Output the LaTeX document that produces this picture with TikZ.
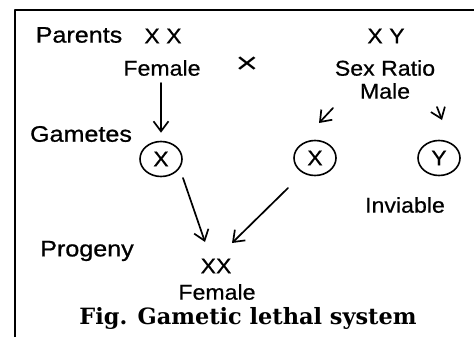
\documentclass[tikz,border=0pt]{standalone}
\usepackage{fontspec}
\setsansfont{Liberation Sans}[FakeStretch=1.08,FakeBold=0.6]
\newfontfamily\rowfont{Liberation Sans}[FakeStretch=1.12,FakeBold=0.9]
\newfontfamily\crossfont{Liberation Sans}[FakeStretch=1.3]
\newfontfamily\capfont{DejaVu Serif}
\usetikzlibrary{calc,arrows.meta,shapes.geometric}
\tikzset{pix/.style={x=1bp,y=-1bp,line join=round,line cap=round},
  lbl/.style={font=\sffamily\fontsize{21.5}{24}\selectfont,inner sep=0pt},
  rowlbl/.style={font=\rowfont\fontsize{22.5}{24}\selectfont,inner sep=0pt},
  gam/.style={lbl,ellipse,draw,line width=1.6bp,minimum width=42bp,minimum height=35bp},
  arr/.style={-{Straight Barb[length=10bp,width=15bp]},line width=1.7bp}}

\begin{document}
\begin{tikzpicture}[pix]
  \useasboundingbox (0,0) rectangle (474,337);
  % frame
  \draw[line width=2bp,line cap=butt] (15,337) -- (15,10) -- (474,10);
  % row labels
  \node[rowlbl] (parents) at (79,35) {Parents};
  \node[rowlbl] (gametes) at (81,134) {Gametes};
  \node[rowlbl] (progeny) at (87,251) {Progeny};
  % parents
  \node[lbl] (xxP) at (163,36) {X X};
  \node[lbl] (femP) at (162,68) {Female};
  \node[lbl,font=\crossfont\fontsize{30}{32}\selectfont] (cross) at (247,65) {×};
  \node[lbl] (xyP) at (386,36) {X Y};
  \node[lbl] (sexP) at (385,68) {Sex Ratio};
  \node[lbl] (maleP) at (385,91) {Male};
  % gametes
  \node[gam] (gx) at (161,159) {X};
  \node[gam] (gmx) at (315,158) {X};
  \node[gam] (gmy) at (439,158) {Y};
  \node[lbl] (inv) at (405,205) {Inviable};
  % progeny
  \node[lbl] (xxF) at (216,266) {XX};
  \node[lbl] (femF) at (217,292) {Female};
  \node[font=\capfont\bfseries\fontsize{22.5}{24}\selectfont,inner sep=0pt] (cap) at (248,318) {Fig. Gametic lethal system};
  % arrows
  \draw[arr,shorten <=7bp,shorten >=8bp] (gx.north |- femP.south) -- (gx.north);
  \draw[arr] ($(gmx)+(18,-50)$) -- ($(gmx)+(4,-35)$);
  \draw[arr] ($(gmy)+(-2,-51)$) -- ($(gmy)+(3,-38)$);
  \draw[arr] ($(gx)+(22,19)$) -- ($(xxF)+(-11,-24)$);
  \draw[arr] ($(gmx)+(-27,30)$) -- ($(xxF)+(16,-23)$);
\end{tikzpicture}
\end{document}
